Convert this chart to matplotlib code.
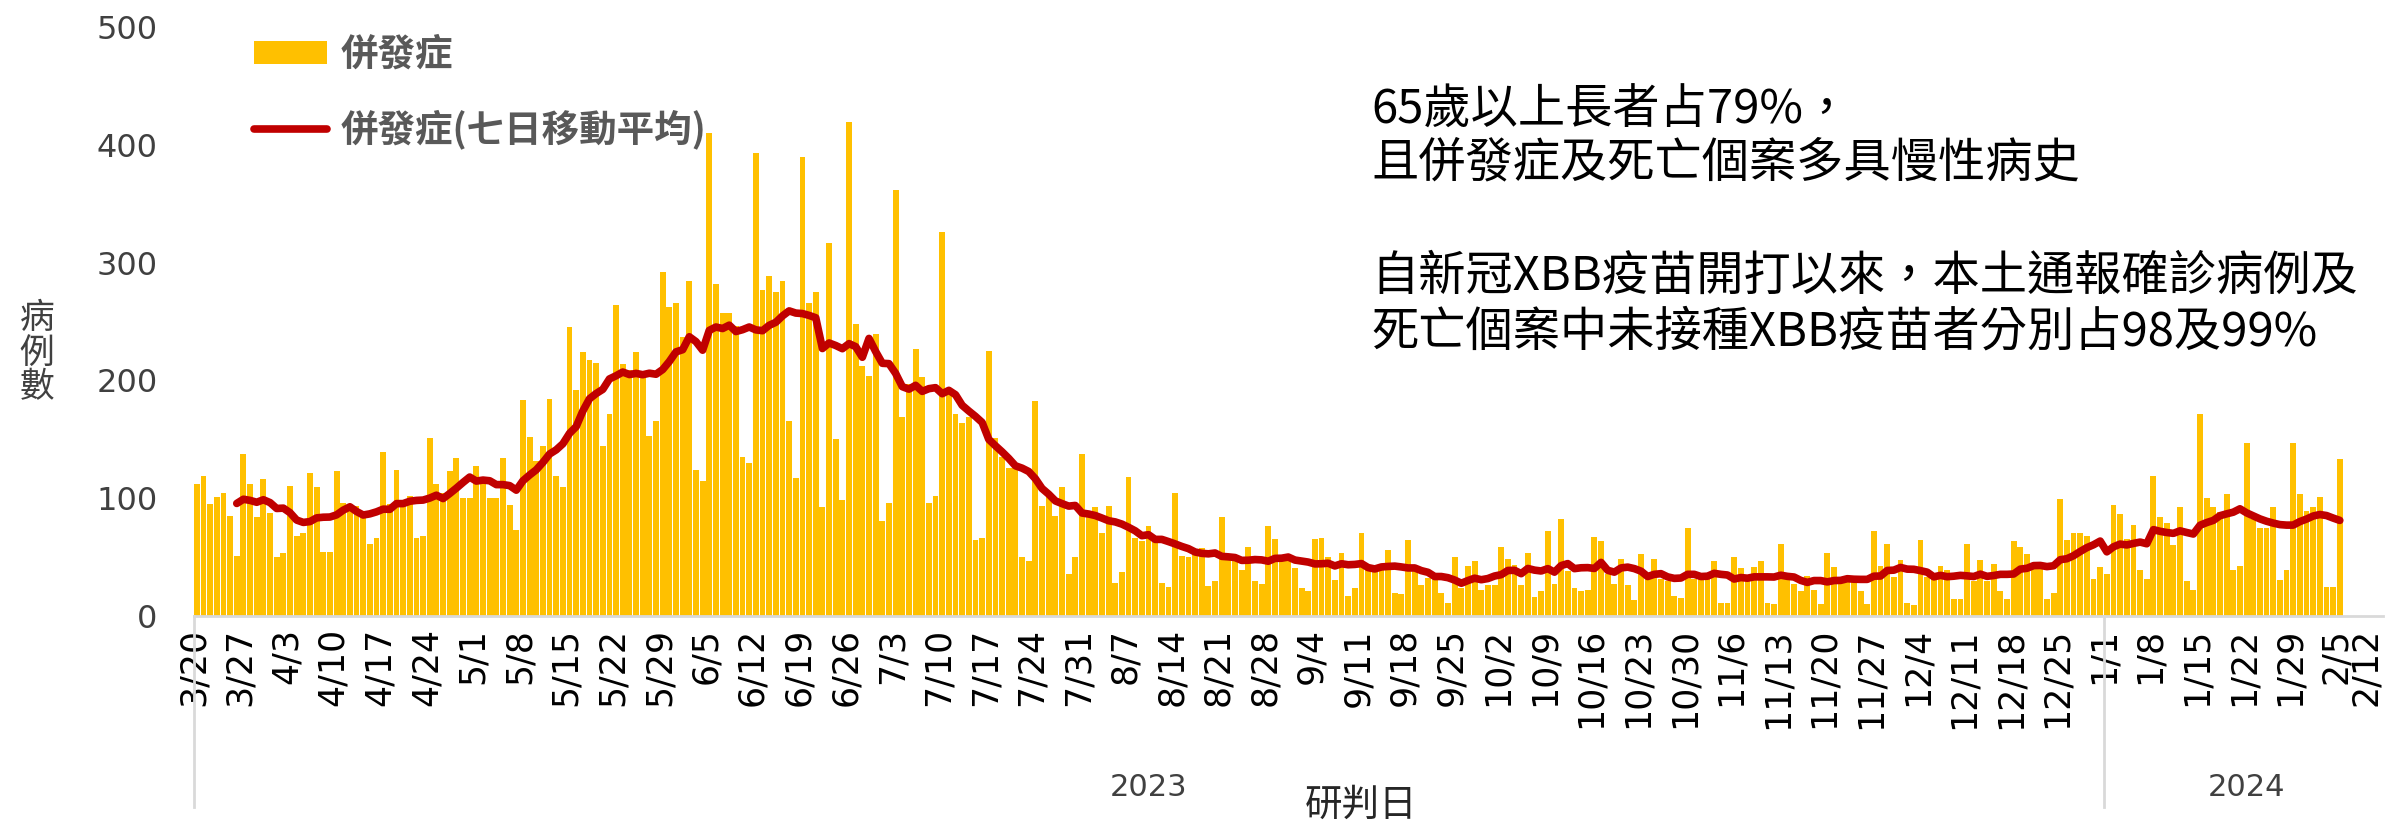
import numpy as np
import pandas as pd
import matplotlib
matplotlib.use('Agg')
import matplotlib.pyplot as plt

# CJK font first, DejaVu as fallback for anything it lacks
plt.rcParams['font.family'] = ['Noto Sans CJK TC', 'DejaVu Sans']

# Daily complication cases, one row per week (Mon..Sun), starting 2023-03-20
daily_cases = [
    112, 119, 95, 101, 104, 85, 51,      # 3/20
    137, 112, 84, 116, 87, 50, 53,       # 3/27
    110, 68, 70, 121, 109, 54, 54,       # 4/3
    123, 96, 90, 93, 88, 61, 66,         # 4/10
    139, 95, 124, 93, 102, 66, 68,       # 4/17
    151, 112, 104, 123, 134, 100, 100,   # 4/24
    127, 118, 100, 100, 134, 94, 73,     # 5/1
    183, 152, 131, 144, 184, 119, 109,   # 5/8
    245, 192, 224, 217, 215, 144, 171,   # 5/15
    264, 214, 209, 224, 207, 153, 165,   # 5/22
    292, 262, 266, 237, 284, 124, 114,   # 5/29
    410, 282, 257, 257, 246, 135, 130,   # 6/5
    393, 277, 289, 275, 284, 165, 117,   # 6/12
    390, 266, 275, 92, 317, 150, 98,     # 6/19
    420, 248, 212, 204, 239, 80, 96,     # 6/26
    362, 169, 197, 227, 203, 96, 102,    # 7/3
    326, 189, 171, 164, 169, 64, 66,     # 7/10
    225, 151, 135, 125, 125, 50, 46,     # 7/17
    182, 93, 101, 85, 109, 35, 50,       # 7/24
    137, 87, 92, 70, 93, 28, 37,         # 7/31
    118, 66, 63, 76, 65, 28, 24,         # 8/7
    104, 51, 50, 56, 57, 25, 29,         # 8/14
    84, 48, 46, 39, 58, 29, 27,          # 8/21
    76, 65, 47, 46, 40, 23, 21,          # 8/28
    65, 66, 50, 30, 53, 17, 23,          # 9/4
    70, 42, 42, 42, 56, 19, 18,          # 9/11
    64, 42, 26, 32, 31, 19, 11,          # 9/18
    50, 23, 42, 46, 22, 26, 26,          # 9/25
    58, 48, 43, 26, 53, 16, 21,          # 10/2
    72, 27, 82, 38, 23, 21, 22,          # 10/9
    67, 63, 35, 27, 48, 26, 13,          # 10/16
    52, 31, 48, 31, 29, 17, 15,          # 10/23
    74, 31, 35, 33, 46, 11, 11,          # 10/30
    50, 40, 31, 41, 46, 11, 10,          # 11/6
    61, 33, 27, 21, 34, 22, 10,          # 11/13
    53, 41, 28, 31, 31, 21, 10,          # 11/20
    72, 42, 61, 33, 47, 11, 9,           # 11/27
    64, 33, 33, 42, 39, 14, 14,          # 12/4
    61, 29, 47, 29, 44, 21, 14,          # 12/11
    63, 58, 52, 45, 45, 14, 19,          # 12/18
    99, 64, 70, 70, 68, 31, 41,          # 12/25
    35, 94, 86, 65, 77, 39, 31,          # 1/1
    119, 84, 79, 60, 92, 29, 22,         # 1/8
    171, 100, 92, 88, 103, 39, 42,       # 1/15
    147, 82, 74, 74, 92, 30, 39,         # 1/22
    147, 103, 89, 92, 101, 24, 24,       # 1/29
    133,                                 # 2/5
]

tick_labels = ['3/20', '3/27', '4/3', '4/10', '4/17', '4/24', '5/1', '5/8',
               '5/15', '5/22', '5/29', '6/5', '6/12', '6/19', '6/26', '7/3',
               '7/10', '7/17', '7/24', '7/31', '8/7', '8/14', '8/21', '8/28',
               '9/4', '9/11', '9/18', '9/25', '10/2', '10/9', '10/16', '10/23',
               '10/30', '11/6', '11/13', '11/20', '11/27', '12/4', '12/11',
               '12/18', '12/25', '1/1', '1/8', '1/15', '1/22', '1/29', '2/5', '2/12']
year_labels = ['2023', '2024']

note_lines = ['65歲以上長者占79%，',
              '且併發症及死亡個案多具慢性病史',
              '自新冠XBB疫苗開打以來，本土通報確診病例及',
              '死亡個案中未接種XBB疫苗者分別占98及99%']

# 7-day moving average of the daily counts
days = np.arange(len(daily_cases))
ma7 = pd.Series(daily_cases).rolling(7).mean()

fig = plt.figure(figsize=(23.89, 8.21), dpi=100)
ax = fig.add_axes([0.081, 0.2503, 0.9165, 0.7163])

bars = ax.bar(days + 0.5, daily_cases, width=0.88, color='#FFC000', label='併發症')
line, = ax.plot(days + 0.5, ma7, color='#C00000', lw=5.5,
                solid_capstyle='round', label='併發症(七日移動平均)')

ax.set_xlim(0, 329)
ax.set_ylim(0, 500)
ax.set_yticks(range(0, 501, 100))
ax.set_xticks(np.arange(0, 330, 7))
ax.set_xticklabels(tick_labels, rotation=90, fontsize=25, family='DejaVu Sans')
# last date label sits on the figure edge; keep it inside
ax.get_xticklabels()[-1].set_horizontalalignment('right')
for lab in ax.get_yticklabels():
    lab.set_fontsize(23)
    lab.set_family('DejaVu Sans')
    lab.set_color('#404040')
ax.tick_params(axis='y', length=0, pad=26)
ax.tick_params(axis='x', length=0, pad=9)

for side in ['top', 'right', 'left']:
    ax.spines[side].set_visible(False)
ax.spines['bottom'].set_color('#D9D9D9')
ax.spines['bottom'].set_linewidth(2)

# year group separators under the date labels
for x in (0, 287):
    ax.axvline(x, ymin=-0.326, ymax=0, color='#D9D9D9', lw=2, clip_on=False)

tr = ax.get_xaxis_transform()
ax.text(143.5, -0.293, year_labels[0], transform=tr, ha='center', va='center',
        fontsize=22, family='DejaVu Sans', color='#404040')
ax.text(308.5, -0.293, year_labels[1], transform=tr, ha='center', va='center',
        fontsize=22, family='DejaVu Sans', color='#404040')
ax.text(175.5, -0.322, '研判日', transform=tr, ha='center', va='center',
        fontsize=27, color='#262626')

fig.text(0.0155, 0.570, '病\n例\n數', ha='center', va='center', fontsize=25,
         linespacing=1.0, color='#404040')

ax.legend(handles=[bars, line], loc='upper left',
          bbox_to_anchor=(254 / 2389, 1 - 35 / 821), bbox_transform=fig.transFigure,
          frameon=False, prop={'size': 27, 'weight': 'bold'}, labelcolor='#595959',
          handlelength=1.95, handleheight=0.55, handletextpad=0.37,
          labelspacing=0.95, borderpad=0, borderaxespad=0)

# annotation block on the right
note_y = [110, 163, 277, 332]
for txt, y in zip(note_lines, note_y):
    fig.text(1371 / 2389, 1 - y / 821, txt, ha='left', va='center',
             fontsize=34, color='black')

fig.savefig('out.png', dpi=100)
